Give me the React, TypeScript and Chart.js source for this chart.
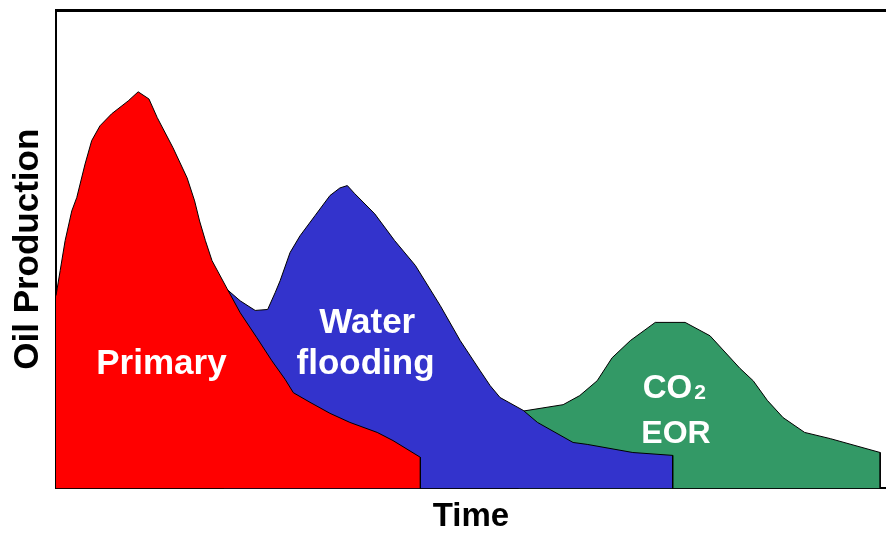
import React, { useEffect, useRef } from "react";
import { Chart, registerables } from "chart.js";

Chart.register(...registerables);

// Time axis (0–100) and oil production (0–100)
const primaryTime = [0, 0.5, 1.1, 1.9, 2.5, 3.5, 4.3, 5.3, 6.7, 8.7, 9.9, 11.2, 12.2, 14.1, 15.8, 16.7, 17.3, 18.0, 18.8, 20.6, 22.2, 24.2, 26.0, 27.6, 28.6, 30.6, 33.0, 35.4, 38.7, 40.6, 43.9, 43.9];
const primaryOil = [40.3, 45.5, 51.8, 58.0, 60.8, 67.8, 72.7, 75.8, 78.3, 81.0, 82.9, 81.4, 77.5, 71.2, 64.9, 60.1, 55.9, 51.8, 47.6, 41.8, 36.7, 31.5, 26.7, 22.8, 20.0, 18.0, 15.7, 13.8, 11.7, 10.0, 6.5, 0];

const waterTime = [20.2, 22.2, 24.0, 25.5, 26.4, 27.0, 28.2, 29.4, 31.2, 33.0, 34.2, 35.1, 36.0, 38.4, 40.8, 43.3, 46.3, 48.7, 51.1, 52.3, 53.5, 56.3, 58.0, 62.3, 64.0, 69.5, 74.3, 74.3];
const waterOil = [42.2, 39.2, 37.2, 37.4, 40.9, 43.4, 49.3, 52.8, 57.0, 61.2, 62.8, 63.3, 61.6, 57.4, 51.8, 46.6, 38.2, 30.9, 24.6, 21.5, 19.0, 16.3, 13.8, 9.6, 9.2, 7.5, 6.9, 0];

const co2Time = [55.7, 61.1, 63.1, 65.2, 67.0, 69.2, 72.2, 75.8, 78.8, 82.4, 84.0, 85.7, 87.6, 90.2, 93.3, 99.3, 99.3];
const co2Oil = [16.0, 17.5, 19.4, 22.5, 27.3, 30.9, 34.7, 34.7, 31.9, 25.1, 22.5, 18.4, 14.8, 11.7, 10.4, 7.5, 0];

const stageLabels = ["Primary", "Water", "flooding", "CO2", "EOR"];

const FONT = '"Liberation Sans", Arial, Helvetica, sans-serif';

// where each label sits (time, production) and its size
const labelLayout = [
  { t: 12.7, v: 24.0, size: 35 },
  { t: 37.5, v: 32.4, size: 35 },
  { t: 37.3, v: 24.0, size: 35 },
  { t: 74.5, v: 19.0, size: 33 },
  { t: 74.7, v: 9.4, size: 32 },
];

const toPoints = (xs: number[], ys: number[]) => xs.map((x, i) => ({ x, y: ys[i] }));

const labelPlugin = {
  id: "stageLabels",
  afterDatasetsDraw(chart: any) {
    const { ctx, scales } = chart;
    const x = scales.x;
    const y = scales.y;
    ctx.save();
    ctx.fillStyle = "#ffffff";
    ctx.textBaseline = "alphabetic";
    stageLabels.forEach((text, i) => {
      const l = labelLayout[i];
      const px = x.getPixelForValue(l.t);
      const py = y.getPixelForValue(l.v);
      if (text === "CO2") {
        const big = `bold ${l.size}px ${FONT}`;
        const small = `bold ${Math.round(l.size * 0.64)}px ${FONT}`;
        ctx.font = big;
        const w1 = ctx.measureText("CO").width;
        ctx.font = small;
        const w2 = ctx.measureText("2").width;
        const start = px - (w1 + w2 + 2) / 2;
        ctx.textAlign = "left";
        ctx.font = big;
        ctx.fillText("CO", start, py);
        ctx.font = small;
        ctx.fillText("2", start + w1 + 2, py + 1);
      } else {
        ctx.textAlign = "center";
        ctx.font = `bold ${l.size}px ${FONT}`;
        ctx.fillText(text, px, py);
      }
    });
    ctx.restore();
  },
};

export default function App() {
  const canvasRef = useRef<HTMLCanvasElement | null>(null);

  useEffect(() => {
    if (!canvasRef.current) return;
    const chart = new Chart(canvasRef.current, {
      type: "line",
      data: {
        datasets: [
          {
            label: "Primary",
            data: toPoints(primaryTime, primaryOil),
            backgroundColor: "#ff0000",
            borderColor: "#000000",
            borderWidth: 1,
            fill: "origin",
          },
          {
            label: "Water flooding",
            data: toPoints(waterTime, waterOil),
            backgroundColor: "#3333cc",
            borderColor: "#000000",
            borderWidth: 1,
            fill: "origin",
          },
          {
            label: "CO2 EOR",
            data: toPoints(co2Time, co2Oil),
            backgroundColor: "#339966",
            borderColor: "#000000",
            borderWidth: 1,
            fill: "origin",
          },
        ],
      },
      options: {
        animation: false,
        responsive: true,
        maintainAspectRatio: false,
        layout: { padding: { top: 10, left: 0, right: 0, bottom: 0 } },
        plugins: {
          legend: { display: false },
          tooltip: { enabled: false },
        },
        elements: {
          point: { radius: 0, hoverRadius: 0 },
          line: { tension: 0 },
        },
        scales: {
          x: {
            type: "linear",
            position: "bottom",
            min: 0,
            max: 100,
            ticks: { display: false },
            grid: { display: false, drawTicks: false },
            border: { display: true, color: "#000000", width: 2 },
            title: {
              display: true,
              text: "Time",
              color: "#000000",
              font: { family: FONT, size: 33, weight: "bold", lineHeight: 1.2 },
              padding: { top: 9, bottom: -3 },
            },
          },
          xTop: {
            type: "linear",
            position: "top",
            min: 0,
            max: 100,
            ticks: { display: false },
            grid: { display: false, drawTicks: false },
            border: { display: true, color: "#000000", width: 3 },
          },
          y: {
            type: "linear",
            min: 0,
            max: 100,
            ticks: { display: false },
            grid: { display: false, drawTicks: false },
            border: { display: true, color: "#000000", width: 2 },
            title: {
              display: true,
              text: "Oil Production",
              color: "#000000",
              font: { family: FONT, size: 35, weight: "bold", lineHeight: 1.2 },
              padding: { top: 7, bottom: 7 },
            },
          },
        },
      } as any,
      plugins: [labelPlugin],
    });
    return () => chart.destroy();
  }, []);

  return (
    <div style={{ position: "absolute", left: 0, top: 0, width: 886, height: 534, background: "#ffffff" }}>
      <canvas ref={canvasRef} />
    </div>
  );
}
